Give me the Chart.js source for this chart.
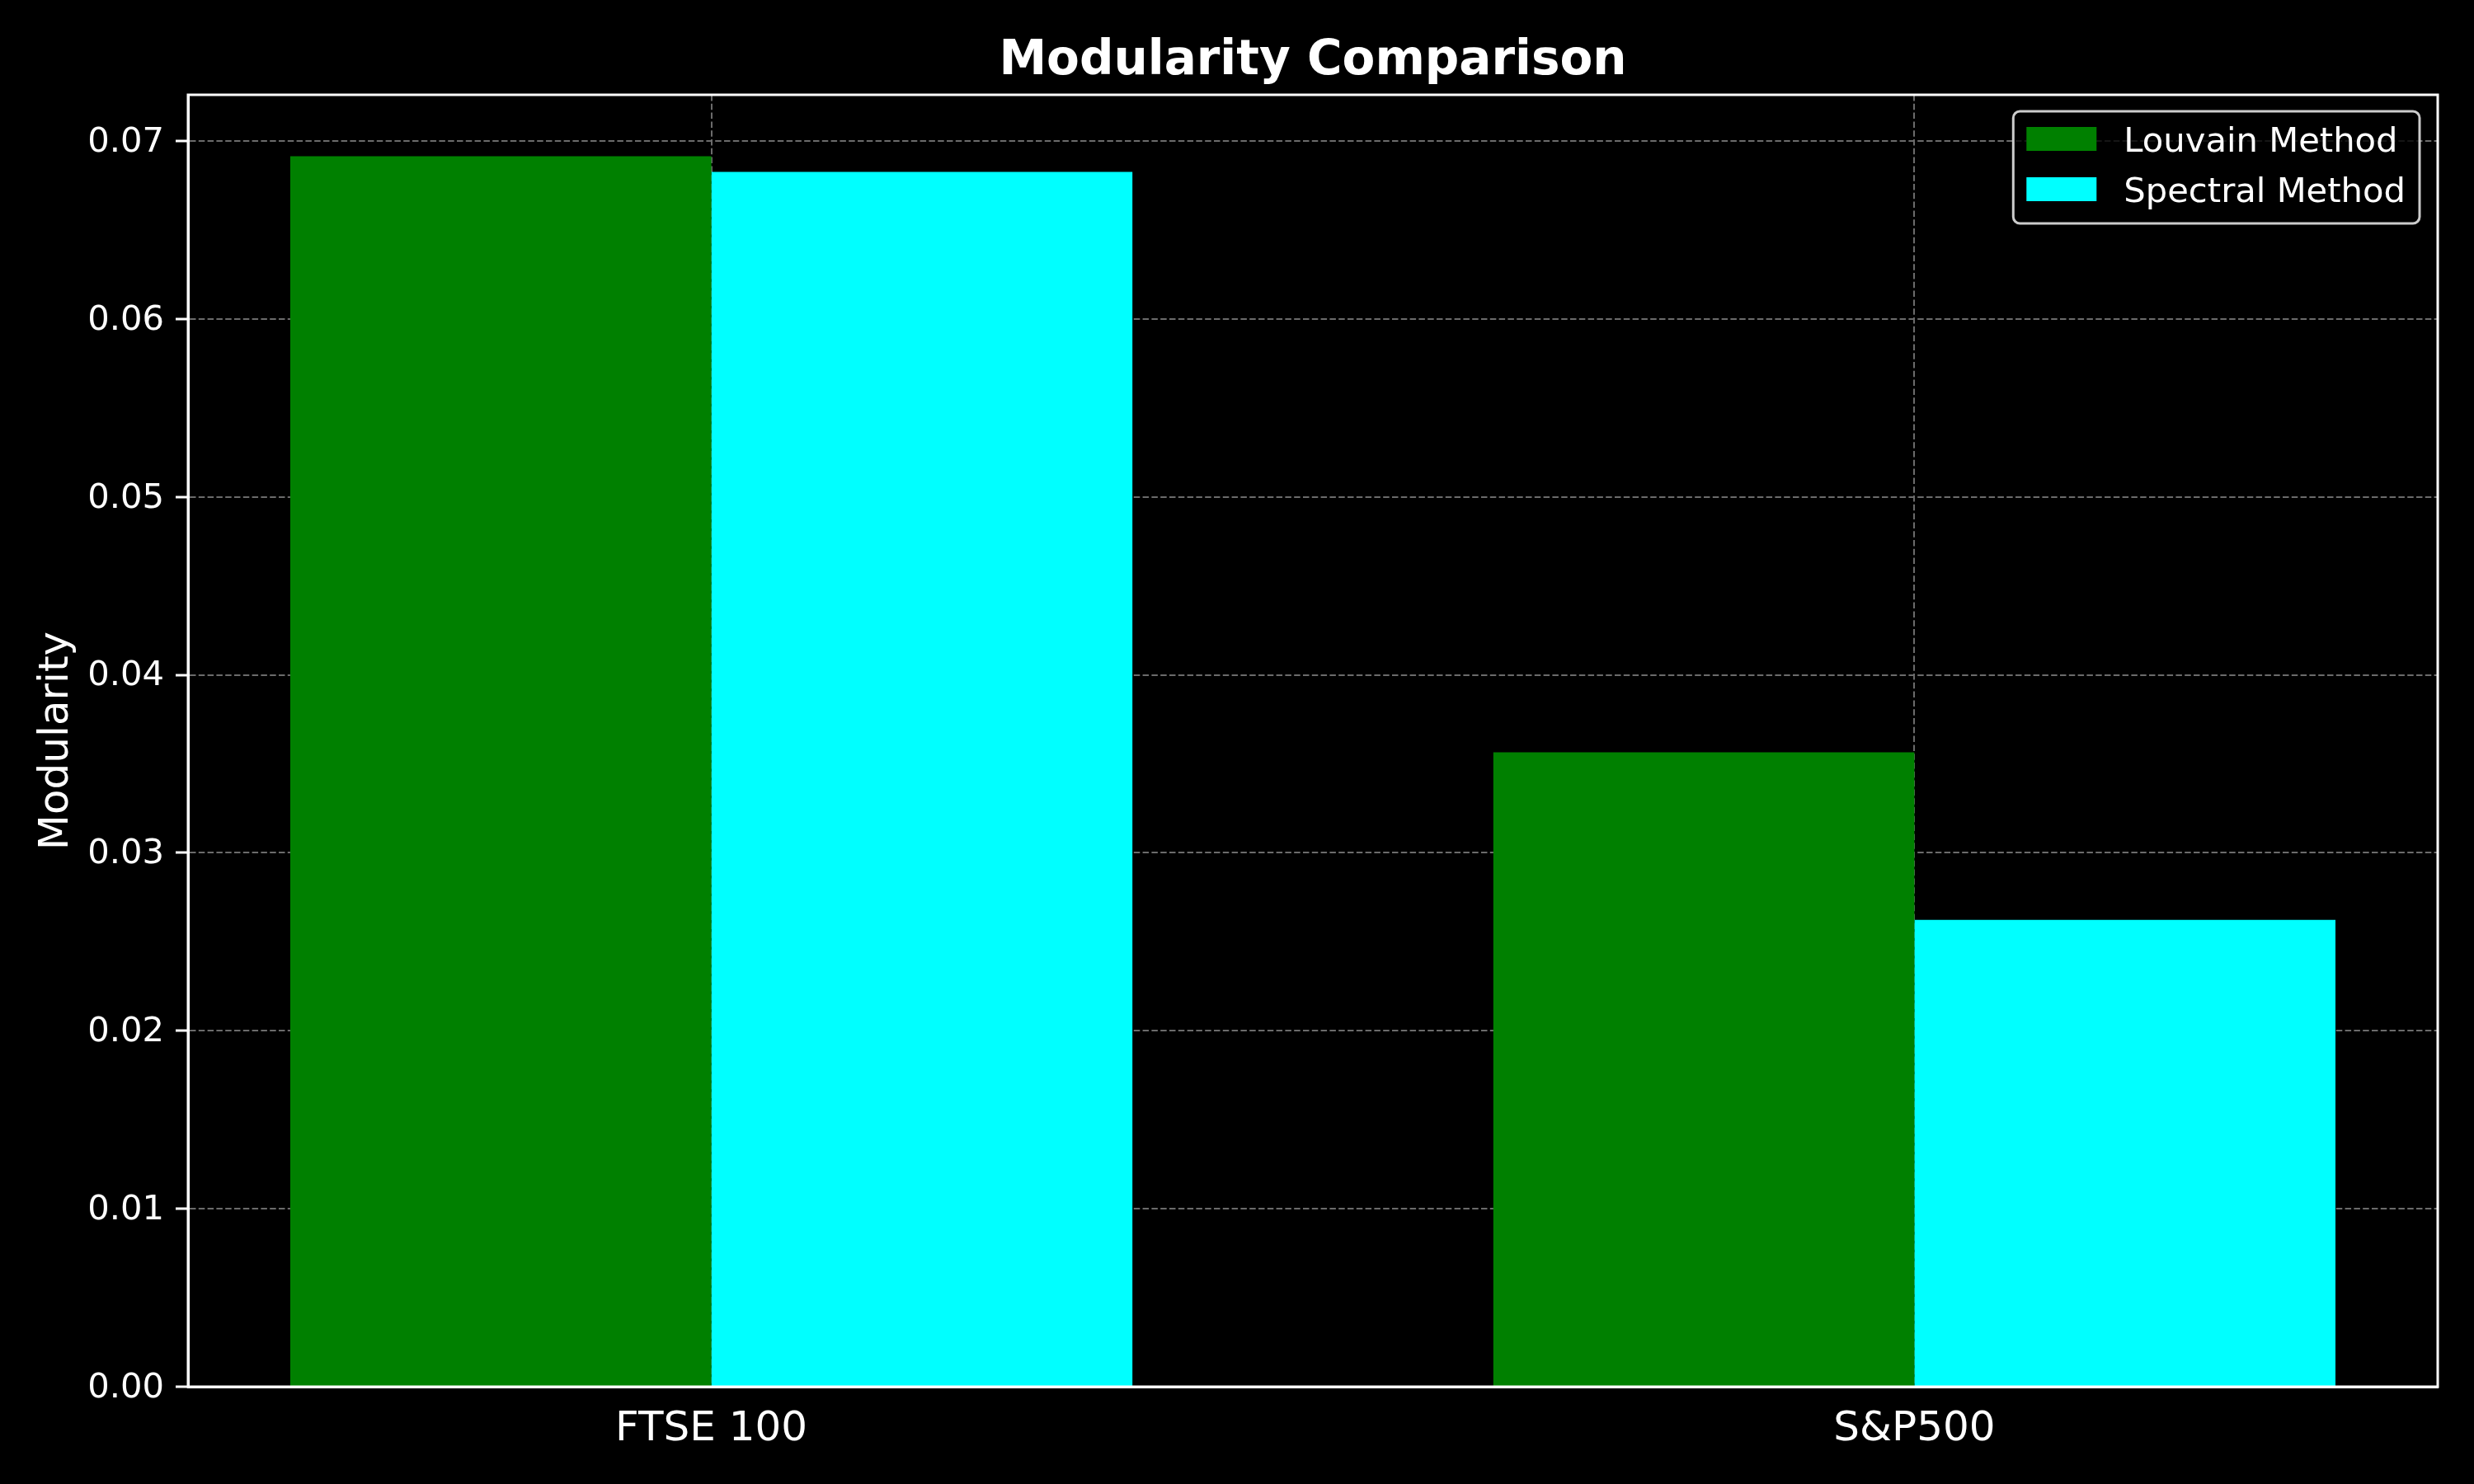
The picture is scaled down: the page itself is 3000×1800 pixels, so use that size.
<!DOCTYPE html>
<html><head><meta charset="utf-8">
<script src="https://cdn.jsdelivr.net/npm/chart.js@4.4.0/dist/chart.umd.min.js"></script>
<style>html,body{margin:0;padding:0;background:#000;} #wrap{width:3000px;height:1800px;}</style>
</head><body><div id="wrap"><canvas id="c" width="3000" height="1800"></canvas></div>
<script>
const categories = ['FTSE 100', 'S&P500'];
const louvain = [0.06915, 0.03565];
const spectral = [0.06827, 0.02623];
const seriesNames = ['Louvain Method', 'Spectral Method'];
const yTickValues = [0, 0.01, 0.02, 0.03, 0.04, 0.05, 0.06, 0.07];
const titleText = 'Modularity Comparison';
const yAxisTitle = 'Modularity';

const FONT = 'DejaVu Sans';

const frameTitleLegend = {
  id: 'frameTitleLegend',
  afterDatasetsDraw(chart) {
    const {ctx, chartArea: a} = chart;
    ctx.save();
    ctx.strokeStyle = '#ffffff';
    ctx.lineWidth = 3;
    ctx.strokeRect(a.left, a.top, a.right - a.left, a.bottom - a.top);

    // title centred over the plot area
    ctx.font = 'bold 58px "' + FONT + '"';
    ctx.fillStyle = '#ffffff';
    ctx.textAlign = 'center';
    ctx.textBaseline = 'alphabetic';
    ctx.fillText(titleText, (a.left + a.right) / 2, a.top - 25);

    const fs = 41.7;
    ctx.font = fs + 'px "' + FONT + '"';
    const ds = chart.data.datasets;
    const textW = Math.max(...ds.map(d => ctx.measureText(d.label).width));
    const padL = 16, handleW = 85, handleH = 29, gap = 33, padR = 17;
    const rowH = 61, firstRow = 33.5, bottomPad = 41.5;
    const boxR = a.right - 22;
    const boxT = a.top + 20;
    const boxW = padL + handleW + gap + textW + padR;
    const boxL = boxR - boxW;
    const boxH = firstRow + rowH * (ds.length - 1) + bottomPad;
    const r = 8;
    ctx.beginPath();
    ctx.moveTo(boxL + r, boxT);
    ctx.lineTo(boxR - r, boxT);
    ctx.arcTo(boxR, boxT, boxR, boxT + r, r);
    ctx.lineTo(boxR, boxT + boxH - r);
    ctx.arcTo(boxR, boxT + boxH, boxR - r, boxT + boxH, r);
    ctx.lineTo(boxL + r, boxT + boxH);
    ctx.arcTo(boxL, boxT + boxH, boxL, boxT + boxH - r, r);
    ctx.lineTo(boxL, boxT + r);
    ctx.arcTo(boxL, boxT, boxL + r, boxT, r);
    ctx.closePath();
    ctx.fillStyle = 'rgba(0,0,0,0.8)';
    ctx.fill();
    ctx.strokeStyle = '#cccccc';
    ctx.lineWidth = 3;
    ctx.stroke();

    ctx.textBaseline = 'alphabetic';
    ctx.textAlign = 'left';
    ds.forEach((d, i) => {
      const cy = boxT + firstRow + i * rowH;
      ctx.fillStyle = d.backgroundColor;
      ctx.fillRect(boxL + padL, cy - handleH / 2, handleW, handleH);
      ctx.fillStyle = '#ffffff';
      ctx.fillText(d.label, boxL + padL + handleW + gap, cy + 15);
    });
    ctx.restore();
  }
};

new Chart(document.getElementById('c'), {
  type: 'bar',
  data: {
    datasets: [
      {label: seriesNames[0], data: louvain.map((v, i) => ({x: i, y: v})),
       backgroundColor: '#008000', borderWidth: 0, categoryPercentage: 0.7, barPercentage: 1.0},
      {label: seriesNames[1], data: spectral.map((v, i) => ({x: i, y: v})),
       backgroundColor: '#00ffff', borderWidth: 0, categoryPercentage: 0.7, barPercentage: 1.0}
    ]
  },
  options: {
    responsive: false,
    animation: false,
    devicePixelRatio: 1,
    layout: {padding: {left: 0, right: 44, top: 115, bottom: 0}},
    plugins: {
      legend: {display: false},
      tooltip: {enabled: false},
      title: {display: false}
    },
    scales: {
      x: {
        type: 'linear', min: -0.435, max: 1.435, offset: false,
        afterBuildTicks: s => { s.ticks = categories.map((c, i) => ({value: i})); },
        afterFit: s => { s.height = 118; },
        ticks: {color: '#ffffff', font: {family: FONT, size: 50}, padding: 22,
          maxRotation: 0, autoSkip: false, callback: v => categories[Math.round(v)]},
        grid: {offset: false, color: '#6b6b6b', lineWidth: 2, drawTicks: false},
        border: {display: true, color: '#ffffff', width: 3, dash: [7.5, 3.3]}
      },
      y: {
        min: 0, max: 0.0726,
        afterBuildTicks: s => { s.ticks = yTickValues.map(v => ({value: v})); },
        afterFit: s => { s.width = 228; },
        ticks: {color: '#ffffff', font: {family: FONT, size: 41.7}, padding: 14, labelOffset: 2,
          callback: v => Number(v).toFixed(2)},
        grid: {color: '#6b6b6b', lineWidth: 2, tickLength: 15, tickColor: '#ffffff',
          tickWidth: 3, tickBorderDash: []},
        border: {display: true, color: '#ffffff', width: 3, dash: [7.5, 3.3]},
        title: {display: true, text: yAxisTitle, color: '#ffffff',
          font: {family: FONT, size: 50, lineHeight: 1.2}, padding: {top: 39, bottom: 0}}
      }
    }
  },
  plugins: [frameTitleLegend]
});
</script>
</body></html>
